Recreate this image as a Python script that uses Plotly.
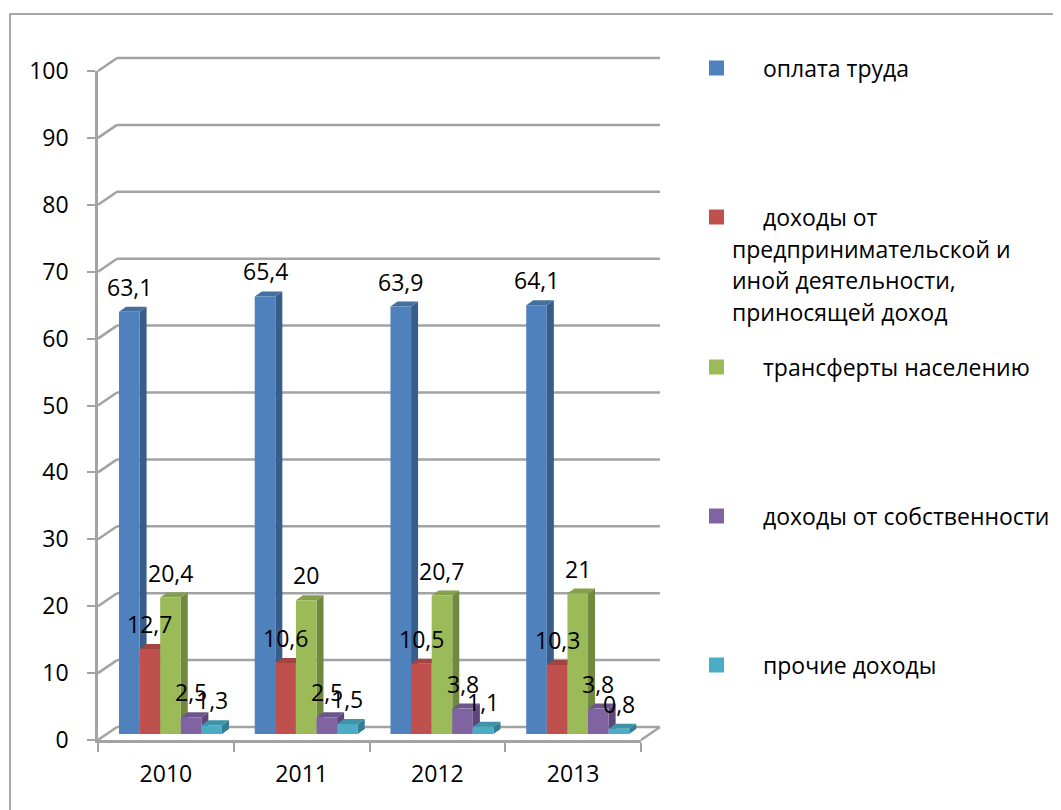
import plotly.graph_objects as go

# ---------------- data ----------------
years = ["2010", "2011", "2012", "2013"]
series_names = [
    "оплата труда",
    "доходы от предпринимательской и иной деятельности, приносящей доход",
    "трансферты населению",
    "доходы от собственности",
    "прочие доходы",
]
wages = [63.1, 65.4, 63.9, 64.1]
business = [12.7, 10.6, 10.5, 10.3]
transfers = [20.4, 20.0, 20.7, 21.0]
property_inc = [2.5, 2.5, 3.8, 3.8]
other = [1.3, 1.5, 1.1, 0.8]
y_ticks = list(range(0, 101, 10))

series_values = [wages, business, transfers, property_inc, other]
front_colors = ["#4F81BD", "#C0504D", "#9BBB59", "#8064A2", "#4BACC6"]
side_colors = ["#385D8A", "#8C3836", "#71893F", "#5C4776", "#357D91"]
top_colors = ["#44709F", "#A34441", "#84A04B", "#6C558A", "#3F93A9"]

# ---------------- geometry (pixels, in screenshot coordinates) ----------------
W, H = 1061, 810
PAGE_OFF = 8              # default body margin of the html page
X0, X1 = 98, 641          # front x-axis extent
Y0, Y1 = 740, 71          # value 0 and value 100 on front axis
UY = (Y0 - Y1) / 100.0
UX = (X1 - X0) / 4.0
WALL_DX, WALL_DY = 19, 13
BACK_RIGHT = 660
GRID = "#a3a3a3"

def xp(px):
    return (px - PAGE_OFF) / W

def yp(py):
    return (H - (py - PAGE_OFF)) / H

x_dom = [xp(X0), xp(X1)]
y_dom = [yp(Y0), yp(Y1)]

bar_shift = 4.6 / UX
bar_base = 6.0 / UY
group_w = 103.0 / UX
bw = group_w / 5
ddx = 7.0 / UX
ddy = 5.0 / UY

fig = go.Figure()
cats = list(range(len(years)))

# anchor trace so the visible axes are drawn
fig.add_trace(go.Scatter(x=[None], y=[None], xaxis="x", yaxis="y", showlegend=False,
                         hoverinfo="skip", mode="markers"))

for i, (name, vals) in enumerate(zip(series_names, series_values)):
    off = (i - 2.5) * bw
    fig.add_trace(go.Bar(
        x=cats, y=vals, name=name, width=bw, offset=off,
        marker=dict(color=front_colors[i], line=dict(width=0)),
        xaxis="x2", yaxis="y2", showlegend=False, hoverinfo="skip",
    ))

shapes = []
# walls / gridlines
for v in y_ticks:
    py = Y0 - v * UY
    shapes.append(dict(type="line", xref="paper", yref="paper", layer="below",
                       x0=xp(X0), y0=yp(py), x1=xp(X0 + WALL_DX), y1=yp(py - WALL_DY),
                       line=dict(color=GRID, width=2.5)))
    shapes.append(dict(type="line", xref="paper", yref="paper", layer="below",
                       x0=xp(X0 + WALL_DX), y0=yp(py - WALL_DY), x1=xp(BACK_RIGHT), y1=yp(py - WALL_DY),
                       line=dict(color=GRID, width=2.5)))
# floor right edge
shapes.append(dict(type="line", xref="paper", yref="paper", layer="below",
                   x0=xp(X1), y0=yp(Y0), x1=xp(BACK_RIGHT), y1=yp(Y0 - WALL_DY),
                   line=dict(color=GRID, width=2.5)))

# 3D side and top faces of bars
for i, vals in enumerate(series_values):
    for c, v in zip(cats, vals):
        l = c + (i - 2.5) * bw
        r = l + bw
        side = f"M {r},0 L {r+ddx},{ddy} L {r+ddx},{v+ddy} L {r},{v} Z"
        top = f"M {l},{v} L {l+ddx},{v+ddy} L {r+ddx},{v+ddy} L {r},{v} Z"
        shapes.append(dict(type="path", path=side, xref="x2", yref="y2", layer="below",
                           fillcolor=side_colors[i], line=dict(width=0)))
        shapes.append(dict(type="path", path=top, xref="x2", yref="y2", layer="below",
                           fillcolor=top_colors[i], line=dict(width=0)))

# outer chart border
shapes.append(dict(type="rect", xref="paper", yref="paper", layer="above",
                   x0=xp(10), y0=yp(14), x1=xp(1085), y1=yp(840),
                   line=dict(color="#8c8c8c", width=1.5), fillcolor="rgba(0,0,0,0)"))

FONT = "Open Sans"
FS = 23
annotations = []
# data labels
for i, vals in enumerate(series_values):
    for c, v in zip(cats, vals):
        cx = c + (i - 2.0) * bw
        annotations.append(dict(x=cx, y=v, xref="x2", yref="y2", yshift=25,
                                text=f"{v:g}".replace(".", ","), showarrow=False,
                                xanchor="center", yanchor="middle",
                                font=dict(family=FONT, size=FS, color="#000")))

# legend (manual, to reproduce spacing)
legend_y = [68, 217, 367, 516, 665]
legend_lines = [
    [(761, "оплата труда")],
    [(761, "доходы от"), (730, "предпринимательской и"), (730, "иной деятельности,"), (730, "приносящей доход")],
    [(761, "трансферты населению")],
    [(761, "доходы от собственности")],
    [(761, "прочие доходы")],
]
for i, (ly, lines) in enumerate(zip(legend_y, legend_lines)):
    shapes.append(dict(type="rect", xref="paper", yref="paper",
                       x0=xp(709), x1=xp(724), y0=yp(ly + 7.5), y1=yp(ly - 7.5),
                       fillcolor=front_colors[i], line=dict(width=0)))
    for k, (lx, txt) in enumerate(lines):
        annotations.append(dict(x=xp(lx), y=yp(ly + k * 31.7), xref="paper", yref="paper",
                                text=txt, showarrow=False, xanchor="left", yanchor="middle",
                                font=dict(family=FONT, size=FS, color="#000")))

fig.update_layout(
    width=W, height=H, autosize=False,
    margin=dict(l=0, r=0, t=0, b=0, pad=0, autoexpand=False),
    paper_bgcolor="white", plot_bgcolor="rgba(0,0,0,0)",
    barmode="overlay",
    font=dict(family=FONT, size=FS, color="#000"),
    shapes=shapes, annotations=annotations,
    xaxis=dict(domain=x_dom, range=[-0.5, 3.5], tickmode="array", tickvals=cats, ticktext=years,
               ticks="", showgrid=False, zeroline=False, showline=True, linecolor=GRID, linewidth=2.5,
               ticklabelstandoff=12, automargin=False,
               minor=dict(tickmode="array", tickvals=[-0.5, 0.5, 1.5, 2.5, 3.5], ticks="outside",
                          ticklen=9, tickwidth=2, tickcolor=GRID, showgrid=False),
               tickfont=dict(family=FONT, size=FS, color="#000"), fixedrange=True),
    yaxis=dict(domain=y_dom, range=[0, 100], tickmode="array", tickvals=y_ticks,
               ticks="outside", ticklen=8, tickwidth=2, tickcolor=GRID,
               showgrid=False, zeroline=False, showline=True, linecolor=GRID, linewidth=2.5,
               ticklabelstandoff=14, automargin=False,
               tickfont=dict(family=FONT, size=FS, color="#000"), fixedrange=True),
    xaxis2=dict(domain=x_dom, range=[-0.5 - bar_shift, 3.5 - bar_shift], overlaying="x",
                visible=False, fixedrange=True, automargin=False),
    yaxis2=dict(domain=y_dom, range=[-bar_base, 100 - bar_base], overlaying="y",
                visible=False, fixedrange=True, automargin=False),
)

fig.write_html("out.html")
